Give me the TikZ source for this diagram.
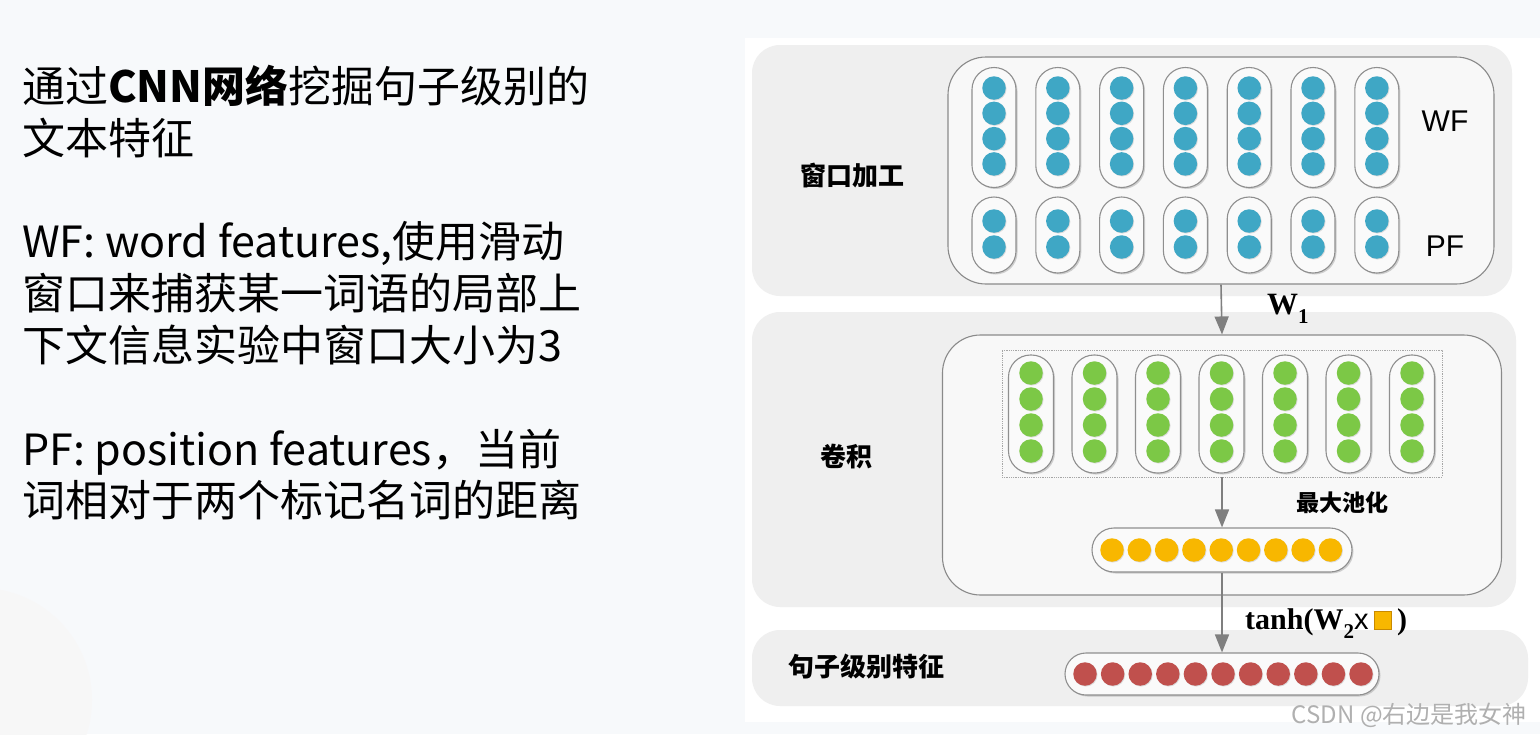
\documentclass[tikz,border=0pt]{standalone}
\usepackage{fontspec}
\setmainfont{Liberation Sans}
\newfontfamily\cjk{Noto Sans CJK SC}
\newfontfamily\tms{Liberation Serif}
\usetikzlibrary{arrows.meta,shadows}
\definecolor{bgc}{HTML}{F7F9FB}
\definecolor{panelc}{HTML}{EFEFEF}
\definecolor{innerfill}{HTML}{F8F8F8}
\definecolor{innerline}{HTML}{8A8A8A}
\definecolor{capfill}{HTML}{FAFAFA}
\definecolor{capline}{HTML}{8F8F8F}
\definecolor{dblue}{HTML}{3FA7C5}
\definecolor{dgreen}{HTML}{7CC846}
\definecolor{dyellow}{HTML}{F8B700}
\definecolor{dred}{HTML}{C0504D}
\definecolor{arrc}{HTML}{7F7F7F}
\definecolor{wmark}{HTML}{B0B0B0}
\definecolor{sqline}{HTML}{C98A00}
\begin{document}
\begin{tikzpicture}[x=1pt,y=-1pt,
  lefttext/.style={anchor=base west,inner sep=0pt,font=\cjk\fontsize{43}{52}\selectfont},
  panel/.style={fill=panelc,rounded corners=28pt},
  innerbox/.style={draw=innerline,fill=innerfill,line width=1.1pt,rounded corners=38pt,inner sep=0pt},
  capsule/.style={draw=capline,fill=capfill,line width=1.1pt,inner sep=0pt,
     drop shadow={opacity=0.35,shadow xshift=1.5pt,shadow yshift=-1.5pt}},
  dot/.style={circle,inner sep=0pt,minimum size=23.5pt,
     drop shadow={opacity=0.25,shadow xshift=0.8pt,shadow yshift=-0.8pt}},
  lab/.style={font=\cjk\bfseries\fontsize{26}{26}\selectfont,inner sep=0pt},
  arr/.style={draw=arrc,line width=1.6pt,-{Triangle[length=18pt,width=14pt]}}
]
\useasboundingbox (0,0) rectangle (1540,734);
\fill[bgc] (0,0) rectangle (1540,734);
\fill[black!3] (-20,700) circle (112);
\fill[white] (745,38) rectangle (1540,722);

% ---------- left text ----------
\node[lefttext] (t1) at (22,102) {通过{\bfseries CNN网络}挖掘句子级别的};
\node[lefttext] (t2) at (22,154) {文本特征};
\node[lefttext] (t3) at (22,257) {WF: word features,使用滑动};
\node[lefttext] (t4) at (22,309) {窗口来捕获某一词语的局部上};
\node[lefttext] (t5) at (22,361) {下文信息实验中窗口大小为3};
\node[lefttext] (t6) at (22,465) {PF: position features，当前};
\node[lefttext] (t7) at (22,516) {词相对于两个标记名词的距离};

% ---------- panels ----------
\fill[panel] (752,45) rectangle (1512,296);
\fill[panel] (752,312) rectangle (1516,607);
\fill[panel] (752,630) rectangle (1528,706);

% ---------- window layer ----------
\node[innerbox,minimum width=546pt,minimum height=227pt] (in1) at (1221,170.5) {};
\foreach \i in {0,...,6}{
  \pgfmathsetmacro{\cx}{994+\i*63.8}
  \node[capsule,minimum width=44pt,minimum height=120pt,rounded corners=22pt] (wf\i) at (\cx,127.5) {};
  \foreach \j in {0,...,3}{
    \node[dot,fill=dblue] (wf\i d\j) at (\cx,88+\j*25.3) {};
  }
  \node[capsule,minimum width=44pt,minimum height=76pt,rounded corners=22pt] (pf\i) at (\cx,235) {};
  \foreach \j in {0,1}{
    \node[dot,fill=dblue] (pf\i d\j) at (\cx,221+\j*26) {};
  }
}
\node[font=\fontsize{30}{30}\selectfont,inner sep=0pt] (wf) at (1445,121) {WF};
\node[font=\fontsize{30}{30}\selectfont,inner sep=0pt] (pf) at (1445,246) {PF};
\node[lab] (l1) at (852,176) {窗口加工};

% ---------- convolution layer ----------
\node[innerbox,minimum width=559pt,minimum height=260pt] (in2) at (1222,465) {};
\node[draw=gray!70,densely dotted,line width=0.8pt,minimum width=440pt,minimum height=127pt,inner sep=0pt] (conv) at (1222,413.5) {};
\foreach \i in {0,...,6}{
  \pgfmathsetmacro{\cx}{1031+\i*63.5}
  \node[capsule,minimum width=45pt,minimum height=118pt,rounded corners=22pt] (cv\i) at (\cx,414) {};
  \foreach \j in {0,...,3}{
    \node[dot,fill=dgreen] (cv\i d\j) at (\cx,373+\j*26) {};
  }
}
\node[lab] (l2) at (846,457) {卷积};
\node[lab,font=\cjk\bfseries\fontsize{23}{23}\selectfont] (l3) at (1342,503) {最大池化};

% ---------- pooling ----------
\node[capsule,minimum width=260pt,minimum height=44pt,rounded corners=22pt] (pool) at (1222,550) {};
\foreach \j in {0,...,8}{
  \node[dot,fill=dyellow] (pool d\j) at (1112+\j*27.3,550) {};
}

% ---------- sentence feature ----------
\node[capsule,minimum width=314pt,minimum height=42pt,rounded corners=21pt] (sent) at (1222,674) {};
\foreach \j in {0,...,10}{
  \node[dot,fill=dred] (sent d\j) at (1085+\j*27.6,674) {};
}
\node[lab] (l4) at (866,667) {句子级别特征};

% ---------- arrows ----------
\draw[arr] (in1.south) -- (in2.north);
\draw[arr] (conv.south) -- (pool.north);
\draw[arr] (pool.south) -- (sent.north);

% ---------- formula labels ----------
\node[anchor=base west,inner sep=0pt] (w1) at (1267,314)
  {\tms\bfseries\fontsize{31}{31}\selectfont W\raisebox{-9pt}{\fontsize{21}{21}\selectfont 1}};
\node[anchor=base west,inner sep=0pt] (f2) at (1245,629)
  {\tms\bfseries\fontsize{30}{30}\selectfont tanh(W\raisebox{-9pt}{\fontsize{21}{21}\selectfont 2}{\normalfont\fontsize{29}{29}\selectfont x}\,\setlength{\fboxsep}{0pt}\setlength{\fboxrule}{0.8pt}\fcolorbox{sqline}{dyellow}{\rule{0pt}{17pt}\rule{17pt}{0pt}}\,)};

% ---------- watermark ----------
\node[anchor=base east,inner sep=0pt,text=wmark,font=\cjk\fontsize{24}{24}\selectfont] (wm) at (1527,723) {CSDN @右边是我女神};
\end{tikzpicture}
\end{document}
